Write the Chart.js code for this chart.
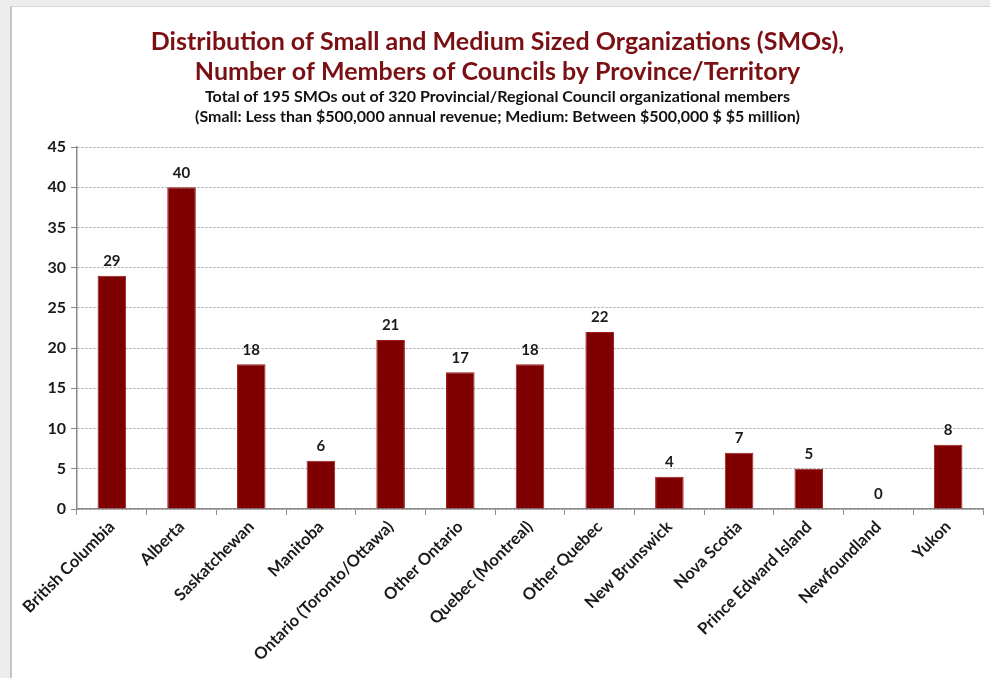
<!DOCTYPE html>
<html>
<head>
<meta charset="utf-8">
<script src="https://cdn.jsdelivr.net/npm/chart.js@4"></script>
<style>
  html, body { margin: 0; padding: 0; background: #ececec; width: 990px; height: 678px; overflow: hidden; }
  #panel { position: absolute; left: 10px; top: 6px; width: 978px; height: 672px; background: #fff; border-left: 2px solid #c4c4c4; border-top: 1px solid #d8d8d8; }
  #wrap { position: absolute; left: 0; top: 0; width: 978px; height: 671px; }
</style>
</head>
<body>
<div id="panel"><div id="wrap"><canvas id="c"></canvas></div></div>
<script>
const categories = ["British Columbia", "Alberta", "Saskatchewan", "Manitoba", "Ontario (Toronto/Ottawa)", "Other Ontario", "Quebec (Montreal)", "Other Quebec", "New Brunswick", "Nova Scotia", "Prince Edward Island", "Newfoundland", "Yukon"];
const members = [29, 40, 18, 6, 21, 17, 18, 22, 4, 7, 5, 0, 8];
const titleLines = ["Distribution of Small and Medium Sized Organizations (SMOs),", "Number of Members of Councils by Province/Territory"];
const subtitleLines = ["Total of 195 SMOs out of 320 Provincial/Regional Council organizational members", "(Small: Less than $500,000 annual revenue; Medium: Between $500,000 $ $5 million)"];
const yMax = 45, yStep = 5;

const FONT = "Lato, 'Open Sans', sans-serif";

const valueLabels = {
  id: 'valueLabels',
  afterDatasetsDraw(chart) {
    const ctx = chart.ctx;
    const meta = chart.getDatasetMeta(0);
    ctx.save();
    ctx.font = "bold 15px " + FONT;
    ctx.fillStyle = "#1a1a1a";
    ctx.textAlign = "center";
    ctx.textBaseline = "bottom";
    meta.data.forEach((bar, i) => {
      ctx.fillText(String(members[i]), bar.x, bar.y - 7);
    });
    ctx.restore();
  }
};

new Chart(document.getElementById('c'), {
  type: 'bar',
  data: {
    labels: categories,
    datasets: [{
      data: members,
      backgroundColor: '#7f0000',
      borderColor: '#9c1c1c',
      borderWidth: 1,
      barPercentage: 0.41,
      categoryPercentage: 1.0
    }]
  },
  options: {
    responsive: true,
    maintainAspectRatio: false,
    animation: false,
    layout: { padding: { left: 0, right: 7, top: 0, bottom: 0 } },
    plugins: {
      legend: { display: false },
      tooltip: { enabled: false },
      title: {
        display: true,
        text: titleLines,
        color: '#7a1013',
        font: { family: FONT, size: 25, weight: 'bold', lineHeight: '30px' },
        padding: { top: 20, bottom: 0 }
      },
      subtitle: {
        display: true,
        text: subtitleLines,
        color: '#111',
        font: { family: FONT, size: 16, weight: 'bold', lineHeight: '20px' },
        padding: { top: 0, bottom: 20 }
      }
    },
    scales: {
      x: {
        afterFit(scale) { scale.height = 169; },
        border: { display: true, color: '#8a8a8a', width: 1.5 },
        grid: { display: true, drawOnChartArea: false, drawTicks: true, tickLength: 6, color: '#8a8a8a', offset: true },
        ticks: {
          color: '#1a1a1a',
          font: { family: FONT, size: 16.5, weight: 'bold' },
          maxRotation: 45, minRotation: 45,
          autoSkip: false,
          padding: 2
        }
      },
      y: {
        min: 0, max: yMax,
        afterFit(scale) { scale.width = 65; },
        border: { display: true, color: '#8a8a8a', width: 1.5, dash: [2, 2] },
        grid: { color: '#a0a0a0', lineWidth: 1, tickLength: 6, tickColor: '#8a8a8a', tickBorderDash: [] },
        ticks: {
          stepSize: yStep,
          color: '#1a1a1a',
          font: { family: FONT, size: 16, weight: 'bold' },
          padding: 5
        }
      }
    }
  },
  plugins: [valueLabels]
});
</script>
</body>
</html>
